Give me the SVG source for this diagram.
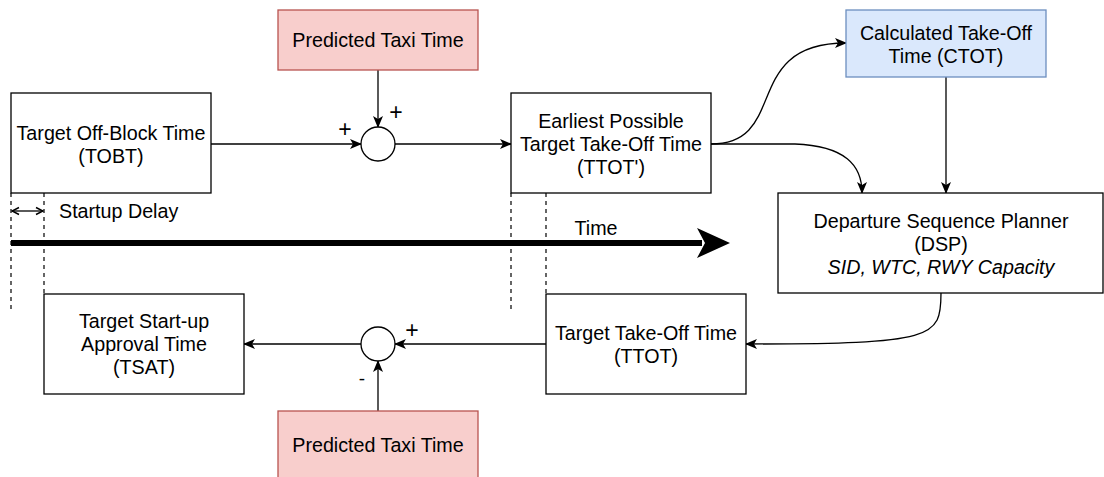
<svg xmlns="http://www.w3.org/2000/svg" width="1104" height="477" viewBox="0 0 1104 477">
<style>
.box{fill:#ffffff;stroke:#000;stroke-width:1.3}
.red{fill:#f8cecc;stroke:#b85450;stroke-width:1.3}
.blue{fill:#dae8fc;stroke:#6c8ebf;stroke-width:1.3}
.sum{fill:#ffffff;stroke:#000;stroke-width:1.3}
text{font-family:"Liberation Sans",Arial,sans-serif;font-size:19.7px;fill:#000;text-anchor:middle}
.sign{font-size:23px}
.minus{font-size:19px}
.edge{fill:none;stroke:#000;stroke-width:1.3}
.dash{fill:none;stroke:#000;stroke-width:1.2;stroke-dasharray:4 4}
</style>
<defs>
<marker id="arr" viewBox="0 0 12 10" refX="11" refY="5" markerWidth="12" markerHeight="10" markerUnits="userSpaceOnUse" orient="auto">
<path d="M0,0 L12,5 L0,10 L3,5 Z" fill="#000"/>
</marker>
<marker id="open" viewBox="0 0 10 10" refX="9" refY="5" markerWidth="10" markerHeight="10" markerUnits="userSpaceOnUse" orient="auto-start-reverse">
<path d="M2,1.5 L9,5 L2,8.5" fill="none" stroke="#000" stroke-width="1.5"/>
</marker>
</defs>

<g id="time-axis">
<line x1="11" y1="243" x2="702" y2="243" stroke="#000" stroke-width="6"/>
<polygon points="697,228 730,243 697,258 705,243" fill="#000"/>
<text x="596" y="235">Time</text>
</g>

<g id="guides">
<line class="dash" x1="11" y1="193" x2="11" y2="310"/>
<line class="dash" x1="44" y1="193" x2="44" y2="294"/>
<line class="dash" x1="511" y1="193" x2="511" y2="310"/>
<line class="dash" x1="546" y1="193" x2="546" y2="294"/>
<line class="edge" x1="12" y1="211" x2="43" y2="211" marker-start="url(#open)" marker-end="url(#open)"/>
<text x="59" y="218" style="text-anchor:start">Startup Delay</text>
</g>

<g id="connectors">
<line class="edge" x1="378" y1="70" x2="378" y2="127" marker-end="url(#arr)"/>
<line class="edge" x1="211" y1="144" x2="361" y2="144" marker-end="url(#arr)"/>
<line class="edge" x1="395" y1="144" x2="511" y2="144" marker-end="url(#arr)"/>
<path class="edge" d="M711,144 C790,144 740,43 846,43" marker-end="url(#arr)"/>
<path class="edge" d="M711,144 L795,144 C845,146 862,165 862,193" marker-end="url(#arr)"/>
<line class="edge" x1="946" y1="77" x2="946" y2="193" marker-end="url(#arr)"/>
<path class="edge" d="M941,293 C941,338 935,344 746,344" marker-end="url(#arr)"/>
<line class="edge" x1="546" y1="344" x2="395" y2="344" marker-end="url(#arr)"/>
<line class="edge" x1="361" y1="344" x2="244" y2="344" marker-end="url(#arr)"/>
<line class="edge" x1="378" y1="411" x2="378" y2="361" marker-end="url(#arr)"/>
<text class="sign" x="396" y="120">+</text>
<text class="sign" x="345" y="137">+</text>
<text class="sign" x="412" y="338">+</text>
<text class="minus" x="362" y="385">-</text>
</g>

<g id="taxi-top">
<rect class="red" x="278" y="10" width="200" height="60"/>
<text x="378" y="47">Predicted Taxi Time</text>
</g>

<g id="tobt">
<rect class="box" x="11" y="93" width="200" height="100"/>
<text x="111" y="140">Target Off-Block Time</text>
<text x="111" y="163">(TOBT)</text>
</g>

<g id="sum-top">
<circle class="sum" cx="378" cy="144" r="17"/>
</g>

<g id="ttot-prime">
<rect class="box" x="511" y="93" width="200" height="100"/>
<text x="611" y="128">Earliest Possible</text>
<text x="611" y="151">Target Take-Off Time</text>
<text x="611" y="174">(TTOT')</text>
</g>

<g id="ctot">
<rect class="blue" x="846" y="10" width="200" height="67"/>
<text x="946" y="40">Calculated Take-Off</text>
<text x="946" y="63">Time (CTOT)</text>
</g>

<g id="dsp">
<rect class="box" x="778" y="193" width="325" height="100"/>
<text x="941" y="228">Departure Sequence Planner</text>
<text x="941" y="251">(DSP)</text>
<text x="941" y="274" font-style="italic">SID, WTC, RWY Capacity</text>
</g>

<g id="ttot">
<rect class="box" x="546" y="294" width="200" height="100"/>
<text x="646" y="340">Target Take-Off Time</text>
<text x="646" y="363">(TTOT)</text>
</g>

<g id="sum-bottom">
<circle class="sum" cx="378" cy="344" r="17"/>
</g>

<g id="tsat">
<rect class="box" x="44" y="294" width="200" height="100"/>
<text x="144" y="328">Target Start-up</text>
<text x="144" y="351">Approval Time</text>
<text x="144" y="374">(TSAT)</text>
</g>

<g id="taxi-bottom">
<rect class="red" x="278" y="411" width="200" height="70"/>
<text x="378" y="452">Predicted Taxi Time</text>
</g>
</svg>
